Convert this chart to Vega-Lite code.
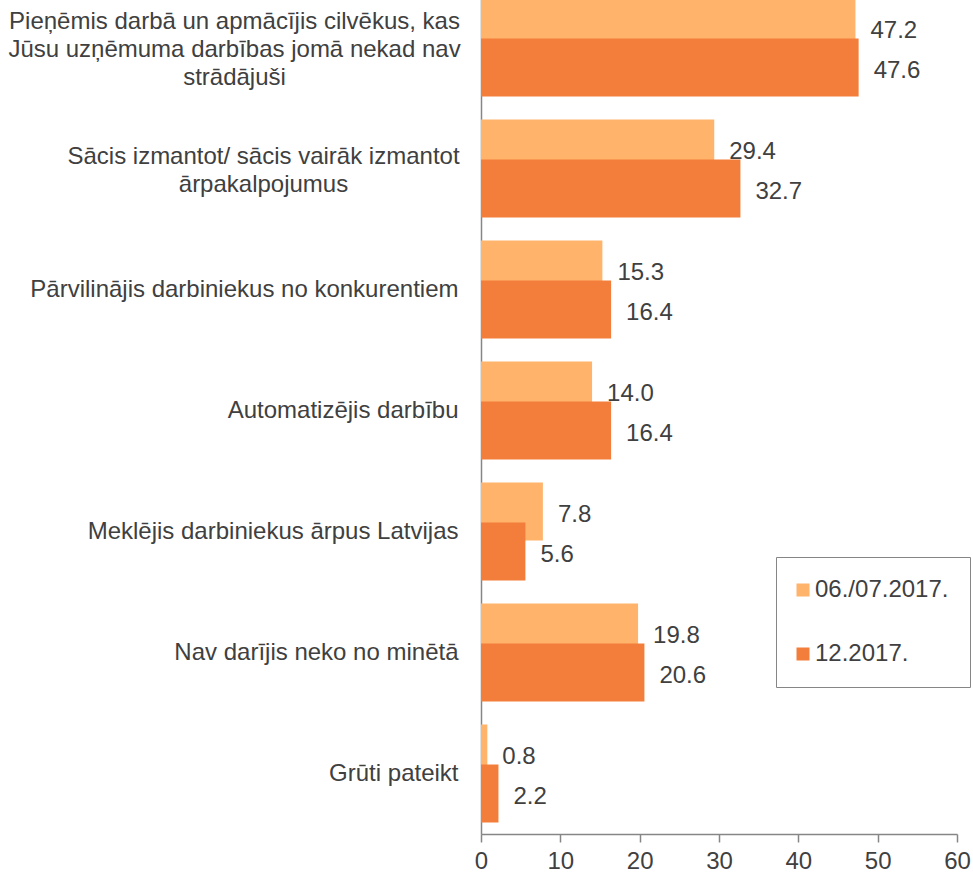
{
  "$schema": "https://vega.github.io/schema/vega-lite/v6.json",
  "autosize": "none",
  "width": 476,
  "height": 847,
  "padding": {"left": 481, "top": -13, "right": 16, "bottom": 39},
  "background": "white",
  "config": {
    "view": {"stroke": null},
    "font": "Liberation Sans",
    "text": {"font": "Liberation Sans"}
  },
  "data": {
    "values": [
      {"category": "Pieņēmis darbā un apmācījis cilvēkus, kas Jūsu uzņēmuma darbības jomā nekad nav strādājuši", "series": "06./07.2017.", "value": 47.2},
      {"category": "Pieņēmis darbā un apmācījis cilvēkus, kas Jūsu uzņēmuma darbības jomā nekad nav strādājuši", "series": "12.2017.", "value": 47.6},
      {"category": "Sācis izmantot/ sācis vairāk izmantot ārpakalpojumus", "series": "06./07.2017.", "value": 29.4},
      {"category": "Sācis izmantot/ sācis vairāk izmantot ārpakalpojumus", "series": "12.2017.", "value": 32.7},
      {"category": "Pārvilinājis darbiniekus no konkurentiem", "series": "06./07.2017.", "value": 15.3},
      {"category": "Pārvilinājis darbiniekus no konkurentiem", "series": "12.2017.", "value": 16.4},
      {"category": "Automatizējis darbību", "series": "06./07.2017.", "value": 14.0},
      {"category": "Automatizējis darbību", "series": "12.2017.", "value": 16.4},
      {"category": "Meklējis darbiniekus ārpus Latvijas", "series": "06./07.2017.", "value": 7.8},
      {"category": "Meklējis darbiniekus ārpus Latvijas", "series": "12.2017.", "value": 5.6},
      {"category": "Nav darījis neko no minētā", "series": "06./07.2017.", "value": 19.8},
      {"category": "Nav darījis neko no minētā", "series": "12.2017.", "value": 20.6},
      {"category": "Grūti pateikt", "series": "06./07.2017.", "value": 0.8},
      {"category": "Grūti pateikt", "series": "12.2017.", "value": 2.2}
    ]
  },
  "encoding": {
    "y": {
      "field": "category",
      "type": "nominal",
      "sort": null,
      "scale": {"paddingInner": 0, "paddingOuter": 0},
      "axis": {
        "title": null,
        "ticks": false,
        "tickSize": 0,
        "domainColor": "#868686",
        "domainWidth": 1.5,
        "labelFont": "Liberation Sans",
        "labelFontSize": 24,
        "labelColor": "#404040",
        "labelLineHeight": 28,
        "labelLimit": 600,
        "labelBaseline": "middle",
        "labelExpr": "indexof(datum.value, 'Pieņēmis') == 0 ? ['Pieņēmis darbā un apmācījis cilvēkus, kas', 'Jūsu uzņēmuma darbības jomā nekad nav', 'strādājuši'] : indexof(datum.value, 'Sācis') == 0 ? ['Sācis izmantot/ sācis vairāk izmantot', 'ārpakalpojumus'] : datum.value",
        "labelAlign": {"condition": {"test": "indexof(datum.value, 'Pieņēmis') == 0 || indexof(datum.value, 'Sācis') == 0", "value": "center"}, "value": "right"},
        "labelPadding": {"condition": [
          {"test": "indexof(datum.value, 'Pieņēmis') == 0", "value": 247},
          {"test": "indexof(datum.value, 'Sācis') == 0", "value": 218}
        ], "value": 23},
        "labelOffset": {"condition": [
          {"test": "indexof(datum.value, 'Pieņēmis') == 0", "value": -26},
          {"test": "indexof(datum.value, 'Sācis') == 0", "value": -12}
        ], "value": 0}
      }
    },
    "x": {
      "field": "value",
      "type": "quantitative",
      "scale": {"domain": [0, 60], "nice": false},
      "axis": {
        "title": null,
        "values": [0, 10, 20, 30, 40, 50, 60],
        "grid": false,
        "domainColor": "#868686",
        "domainWidth": 1.5,
        "tickColor": "#868686",
        "tickWidth": 1.5,
        "tickSize": 8,
        "labelFont": "Liberation Sans",
        "labelFontSize": 24,
        "labelColor": "#404040",
        "labelPadding": 7,
        "labelFlush": false
      }
    },
    "color": {
      "field": "series",
      "type": "nominal",
      "scale": {"domain": ["06./07.2017.", "12.2017."], "range": ["#FFB36B", "#F37E3B"]},
      "legend": {
        "title": null,
        "orient": "none",
        "legendX": 295,
        "legendY": 570,
        "padding": 21,
        "strokeColor": "#868686",
        "symbolType": "square",
        "symbolSize": 169,
        "symbolStrokeWidth": 0,
        "symbolOffset": -6,
        "labelFont": "Liberation Sans",
        "labelFontSize": 24,
        "labelColor": "#404040",
        "labelOffset": 0,
        "rowPadding": 40,
        "fillColor": "white"
      }
    }
  },
  "layer": [
    {
      "transform": [{"filter": "datum.series == '06./07.2017.'"}],
      "mark": {"type": "bar", "size": 58, "yOffset": -20}
    },
    {
      "transform": [{"filter": "datum.series == '12.2017.'"}],
      "mark": {"type": "bar", "size": 58, "yOffset": 20}
    },
    {
      "transform": [{"filter": "datum.series == '06./07.2017.'"}],
      "mark": {"type": "text", "align": "left", "baseline": "middle", "dx": 15, "dy": 3, "yOffset": -20, "fontSize": 24, "font": "Liberation Sans"},
      "encoding": {"text": {"field": "value", "type": "quantitative", "format": ".1f"}, "color": {"value": "#404040"}}
    },
    {
      "transform": [{"filter": "datum.series == '12.2017.'"}],
      "mark": {"type": "text", "align": "left", "baseline": "middle", "dx": 15, "dy": 3, "yOffset": 20, "fontSize": 24, "font": "Liberation Sans"},
      "encoding": {"text": {"field": "value", "type": "quantitative", "format": ".1f"}, "color": {"value": "#404040"}}
    }
  ]
}
